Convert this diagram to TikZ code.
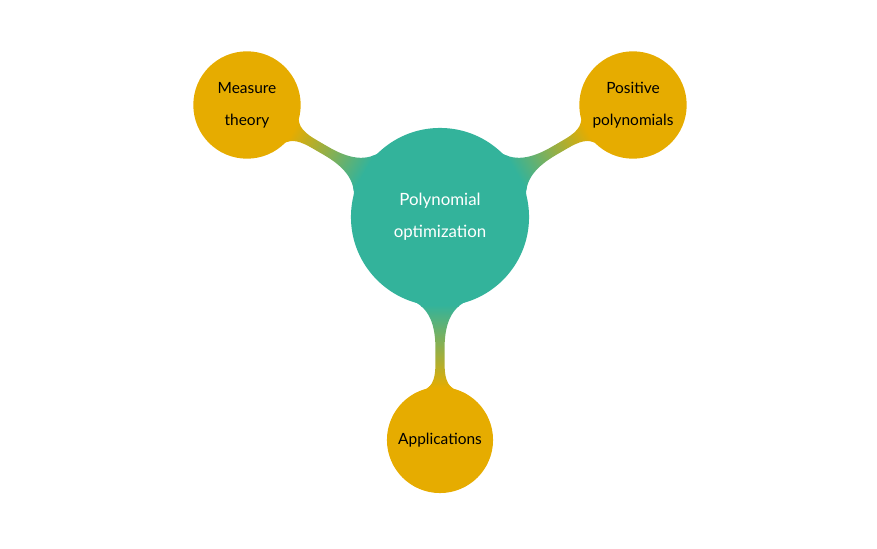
\documentclass[tikz,border=0pt]{standalone}
\usepackage{fontspec}
\setmainfont{Lato}
\usetikzlibrary{mindmap}
\definecolor{rootteal}{HTML}{33B39B}
\definecolor{leafgold}{HTML}{E6AC00}

\begin{document}
\begin{tikzpicture}[mindmap,
  root/.style={concept color=rootteal, concept, minimum size=3.52cm, text width=3cm, inner sep=0pt, text=white, font=\fontsize{9.6}{18}\selectfont},
  leaf/.style={concept color=leafgold, concept, minimum size=2.08cm, text width=1.9cm, inner sep=0pt, text=black, font=\fontsize{8.8}{18}\selectfont}]
\useasboundingbox (0,0) rectangle (17.54,10.96);

\node[root] (poly) at (8.80,6.62) {Polynomial\\optimization};
\node[leaf] (measure) at (4.94,8.86) {Measure\\theory};
\node[leaf] (positive) at (12.66,8.86) {Positive\\polynomials};
\node[leaf] (applic) at (8.80,2.16) {Applications};

\path (poly) to[circle connection bar switch color=from (rootteal) to (leafgold)] (measure);
\path (poly) to[circle connection bar switch color=from (rootteal) to (leafgold)] (positive);
\path (poly) to[circle connection bar switch color=from (rootteal) to (leafgold)] (applic);
\end{tikzpicture}
\end{document}
